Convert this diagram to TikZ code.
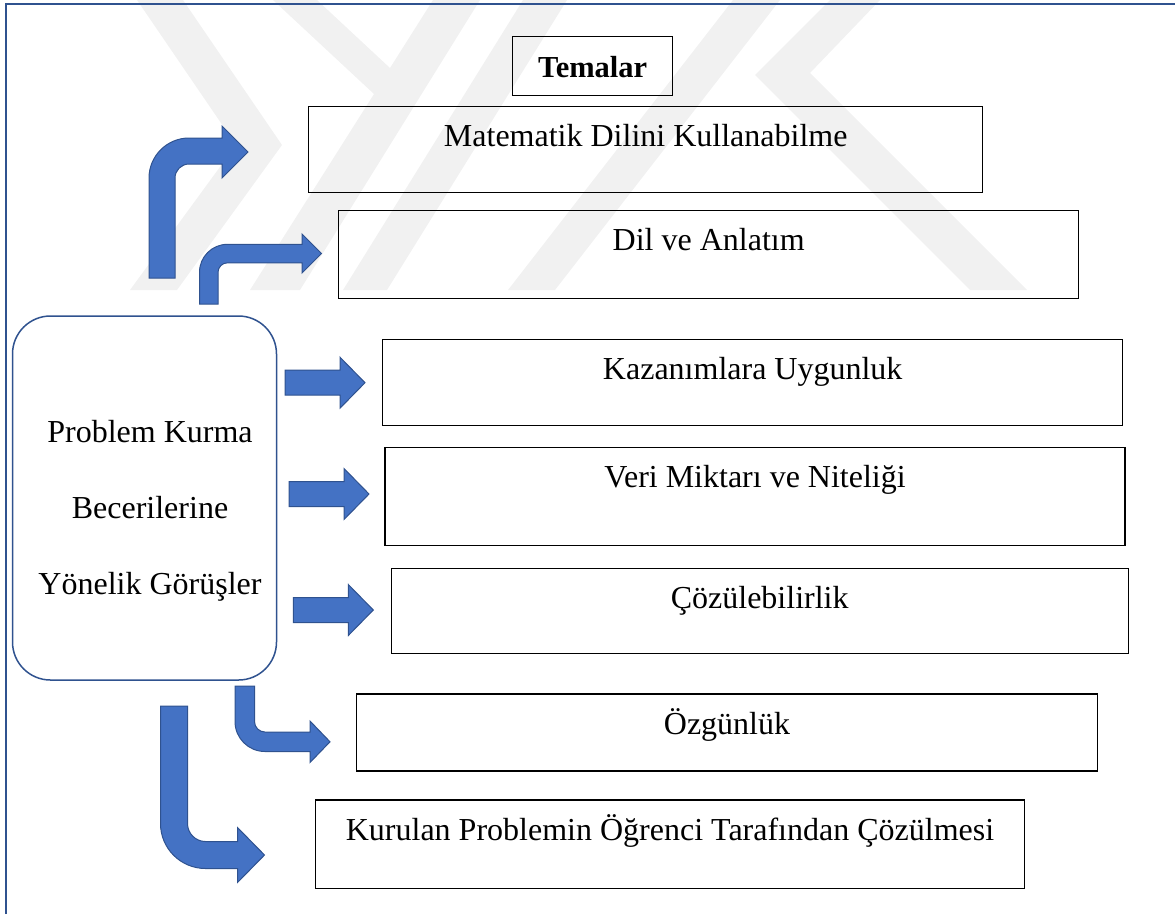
\documentclass[tikz,border=0pt]{standalone}
\usepackage{fontspec}
\setmainfont{Liberation Serif}
\usepackage{tikz}
\usetikzlibrary{positioning}
\definecolor{okmavi}{HTML}{4472C4}
\definecolor{okkenar}{HTML}{2F528F}
\definecolor{filigran}{HTML}{F1F1F1}

\begin{document}
\begin{tikzpicture}[x=1pt, y=-1pt,
    tema/.style={draw, line width=1.4pt, inner sep=0pt, anchor=north west,
      text height=40pt, font=\fontsize{32}{38}\selectfont},
    ok/.style={fill=okmavi, draw=okkenar, line width=1pt}]
  \useasboundingbox (0,0) rectangle (1175,914);

  \fill[filigran] (137,0) -- (183,0) -- (282,145) -- (177,290) -- (130,290) -- (236,145) -- cycle;
  \fill[filigran] (273,0) -- (317,0) -- (390,68) -- (433,0) -- (480,0) -- (300,290) -- (250,290) -- (374,94) -- cycle;
  \fill[filigran] (523,0) -- (567,0) -- (387,290) -- (343,290) -- cycle;
  \fill[filigran] (733,0) -- (780,0) -- (555,290) -- (508,290) -- cycle;
  \fill[filigran] (830,0) -- (880,0) -- (810,73) -- (1027,290) -- (970,290) -- (755,75) -- cycle;

  \draw[okkenar, line width=2pt] (6,914) -- (6,4) -- (1175,4);

  \node[draw=okkenar, line width=1.5pt, rounded corners=38pt, inner sep=0pt,
    minimum width=264pt, minimum height=364pt] (ana) at (144.5,498) {};
  \node[font=\fontsize{32}{76}\selectfont, align=center] (anayazi) at (150,511)
    {Problem Kurma\\Becerilerine\\Yönelik Görüşler};

  \node[tema, font=\bfseries\fontsize{30.5}{36}\selectfont, minimum width=160pt,
    text height=41pt, text depth=18pt] (temalar) at (512,36) {Temalar};

  \node[tema, minimum width=674pt, text depth=45.7pt] (matematik) at (308,106) {Matematik Dilini Kullanabilme};
  \node[tema, minimum width=740pt, text depth=47.7pt] (dil) at (338,210) {Dil ve Anlatım};
  \node[tema, minimum width=740pt, text depth=46pt] (kazanim) at (382,339) {Kazanımlara Uygunluk};
  \node[tema, minimum width=740pt, text depth=58.3pt] (veri) at (384.4,446.7) {Veri Miktarı ve Niteliği};
  \node[tema, minimum width=737pt, text depth=45pt] (cozum) at (390.5,567.7) {Çözülebilirlik};
  \node[tema, minimum width=741pt, text depth=37pt] (ozgun) at (355.8,693.3) {Özgünlük};
  \node[tema, minimum width=709pt, text depth=48.4pt] (kurulan) at (314.8,799.3) {Kurulan Problemin Öğrenci Tarafından Çözülmesi};

  \foreach \x/\y in {285/382.7, 289/494, 293.3/610} {
    \filldraw[ok] (\x,\y-12.5) -- ++(55,0) -- ++(0,-13) -- ++(25,25.5)
      -- ++(-25,25.5) -- ++(0,-13) -- ++(-55,0) -- cycle;
  }

  \filldraw[ok] (149,278) -- (149,178) .. controls (149,156) and (167,138) .. (189,138)
    -- (222,138) -- (222,126) -- (248,152) -- (222,178) -- (222,164) -- (189,164)
    .. controls (181.3,164) and (175,170.3) .. (175,178) -- (175,278) -- cycle;
  \filldraw[ok] (199.5,304) -- (199.5,272.3) .. controls (199.5,256.8) and (212,244.3) .. (227.5,244.3)
    -- (302,244.3) -- (302,234) -- (321.5,253.5) -- (302,273) -- (302,262.8) -- (227.5,262.8)
    .. controls (222.3,262.8) and (218,267.1) .. (218,272.3) -- (218,304) -- cycle;

  \filldraw[ok] (235,686) -- (235,721.5) .. controls (235,738.1) and (248.4,751.5) .. (265,751.5)
    -- (310,751.5) -- (310,762.5) -- (330,741.8) -- (310,721) -- (310,732) -- (265,732)
    .. controls (259.2,732) and (254.5,727.3) .. (254.5,721.5) -- (254.5,686) -- cycle;
  \filldraw[ok] (160.5,706) -- (160.5,823.5) .. controls (160.5,848.4) and (180.7,868.5) .. (205.5,868.5)
    -- (237.5,868.5) -- (237.5,882.5) -- (264.5,855) -- (237.5,827.5) -- (237.5,841.5) -- (205.5,841.5)
    .. controls (195.6,841.5) and (187.5,833.4) .. (187.5,823.5) -- (187.5,706) -- cycle;
\end{tikzpicture}
\end{document}
